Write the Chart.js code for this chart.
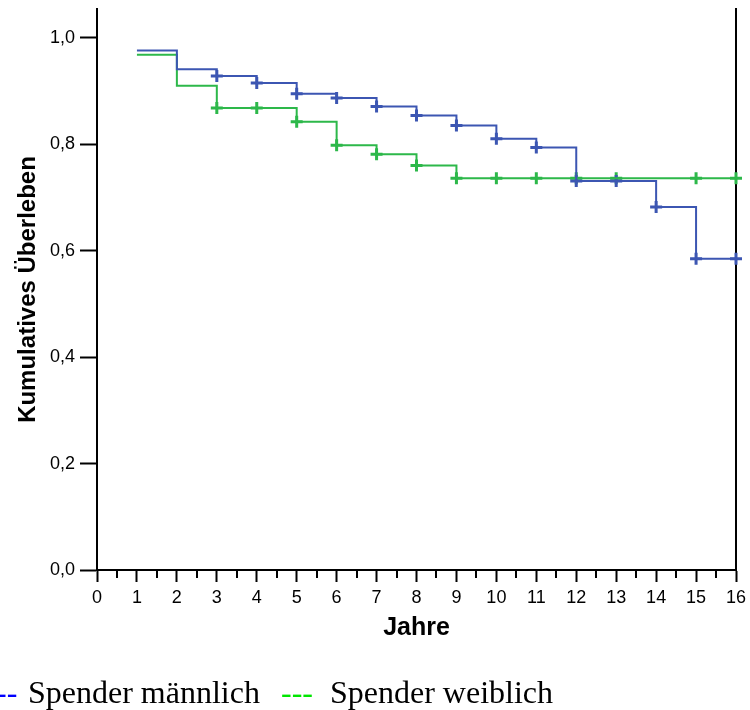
<!DOCTYPE html>
<html>
<head>
<meta charset="utf-8">
<script src="https://cdn.jsdelivr.net/npm/chart.js@4.4.0/dist/chart.umd.min.js"></script>
<style>
  body { margin: 0; background: #fff; }
  #wrap { position: relative; width: 750px; height: 710px; overflow: hidden; }
  .leg { position: absolute; top: 676px; font: 32px/32px "Liberation Serif", "Times New Roman", serif; color: #000; white-space: nowrap; }
</style>
</head>
<body>
<div id="wrap">
  <canvas id="kmChart"></canvas>
  <span class="leg" style="left:-4px;color:#0000ff">--</span>
  <span class="leg" style="left:28px">Spender männlich</span>
  <span class="leg" style="left:281px;color:#00e600">---</span>
  <span class="leg" style="left:330px">Spender weiblich</span>
</div>
<script>
// Kaplan-Meier Schätzung, Werte
const jahre = [1, 2, 3, 4, 5, 6, 7, 8, 9, 10, 11, 12, 13, 14, 15, 16];
const maennlich = [0.976, 0.941, 0.928, 0.915, 0.895, 0.887, 0.871, 0.854, 0.835, 0.810, 0.794, 0.731, 0.731, 0.682, 0.585, 0.585];
const weiblich = [0.968, 0.910, 0.868, 0.868, 0.842, 0.798, 0.781, 0.760, 0.736, 0.736, 0.736, 0.736, 0.736, 0.736, 0.736, 0.736];
// zensierte Fälle (Kreuze)
const zensiertM = [3, 4, 5, 6, 7, 8, 9, 10, 11, 12, 13, 14, 15, 16];
const zensiertW = [3, 4, 5, 6, 7, 8, 9, 10, 11, 12, 13, 15, 16];
// Achsenbeschriftung
const xTicks = [0, 1, 2, 3, 4, 5, 6, 7, 8, 9, 10, 11, 12, 13, 14, 15, 16];
const yTickLabels = ['0,0', '0,2', '0,4', '0,6', '0,8', '1,0'];

const blau = '#3c56b2';
const gruen = '#2db84a';

function stufen(werte) {
  return jahre.map((j, i) => ({ x: j, y: werte[i] }));
}
function kreuze(zeiten, werte) {
  return zeiten.map(t => ({ x: t, y: werte[jahre.indexOf(t)] }));
}

// kleine Striche zwischen den Jahren
const minorTicks = {
  id: 'minorTicks',
  afterDraw(chart) {
    const xs = chart.scales.x;
    const c = chart.ctx;
    c.save();
    c.strokeStyle = '#000';
    c.lineWidth = 2;
    for (let i = 0; i < xTicks.length - 1; i++) {
      const px = Math.round(xs.getPixelForValue((xTicks[i] + xTicks[i + 1]) / 2));
      c.beginPath();
      c.moveTo(px, xs.top);
      c.lineTo(px, xs.top + 8);
      c.stroke();
    }
    c.restore();
  }
};

Chart.defaults.font.family = '"Liberation Sans", Arial, sans-serif';
Chart.defaults.color = '#000';

new Chart(document.getElementById('kmChart'), {
  type: 'line',
  data: {
    datasets: [
      {
        label: 'Spender männlich',
        data: stufen(maennlich),
        stepped: 'before',
        borderColor: blau,
        borderWidth: 2,
        pointRadius: 0,
        fill: false
      },
      {
        label: 'Spender weiblich',
        data: stufen(weiblich),
        stepped: 'before',
        borderColor: gruen,
        borderWidth: 2,
        pointRadius: 0,
        fill: false
      },
      {
        label: 'zensiert m',
        data: kreuze(zensiertM, maennlich),
        showLine: false,
        pointStyle: 'cross',
        pointRadius: 6,
        pointBorderWidth: 3,
        pointBorderColor: blau,
        clip: false
      },
      {
        label: 'zensiert w',
        data: kreuze(zensiertW, weiblich),
        showLine: false,
        pointStyle: 'cross',
        pointRadius: 6,
        pointBorderWidth: 3,
        pointBorderColor: gruen,
        clip: false
      }
    ]
  },
  options: {
    responsive: true,
    maintainAspectRatio: false,
    animation: false,
    layout: {
      padding: { left: 10, right: 14, top: 6, bottom: 65 }
    },
    plugins: {
      legend: { display: false },
      tooltip: { enabled: false }
    },
    scales: {
      x: {
        type: 'linear',
        min: xTicks[0],
        max: xTicks[xTicks.length - 1],
        afterBuildTicks: s => { s.ticks = xTicks.map(v => ({ value: v })); },
        afterFit: s => { s.height = 75; s.paddingLeft = 0; s.paddingRight = 0; },
        ticks: {
          autoSkip: false,
          maxRotation: 0,
          padding: 5,
          font: { size: 18 },
          callback: v => String(v)
        },
        grid: { drawOnChartArea: false, tickLength: 12, tickWidth: 2, tickColor: '#000' },
        border: { color: '#000', width: 2 },
        title: {
          display: true,
          text: 'Jahre',
          font: { size: 25, weight: 'bold' },
          padding: { top: 1, bottom: 2 }
        }
      },
      y: {
        min: 0,
        max: 1.054,
        afterFit: s => { s.width = 87; s.paddingTop = 0; s.paddingBottom = 0; },
        ticks: {
          stepSize: 0.2,
          includeBounds: false,
          padding: 5,
          font: { size: 18 },
          callback: (v, i) => yTickLabels[i]
        },
        grid: { drawOnChartArea: false, tickLength: 17, tickWidth: 2, tickColor: '#000' },
        border: { color: '#000', width: 2 },
        title: {
          display: true,
          text: 'Kumulatives Überleben',
          font: { size: 24, weight: 'bold' },
          padding: { top: 3.6, bottom: 4 }
        }
      },
      y2: {
        position: 'right',
        min: 0,
        max: 1,
        afterFit: s => { s.width = 0; s.paddingTop = 0; s.paddingBottom = 0; },
        ticks: { display: false },
        grid: { display: false, drawTicks: false },
        border: { color: '#000', width: 2 }
      }
    }
  },
  plugins: [minorTicks]
});
</script>
</body>
</html>
